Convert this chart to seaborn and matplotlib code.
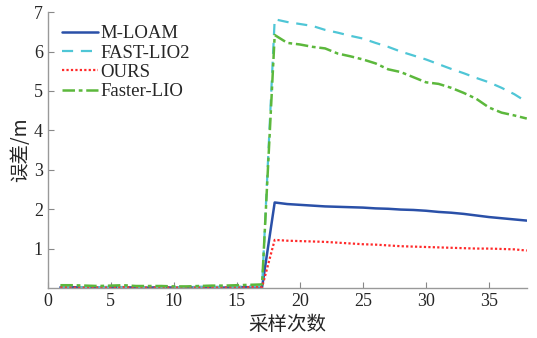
"""Error comparison chart: M-LOAM / FAST-LIO2 / OURS / Faster-LIO."""

import matplotlib
matplotlib.use("Agg")
import matplotlib.pyplot as plt
import numpy as np
import pandas as pd
import seaborn as sns

samples = list(range(1, 39))

m_loam = [0.02, 0.02, 0.01, 0.01, 0.02, 0.02, 0.01, 0.01, 0.02, 0.01, 0.01, 0.02,
          0.02, 0.01, 0.02, 0.02, 0.02,
          2.17, 2.13, 2.11, 2.09, 2.07, 2.06, 2.05, 2.04, 2.02, 2.01, 1.99, 1.98,
          1.96, 1.93, 1.91, 1.88, 1.84, 1.80, 1.77, 1.74, 1.71]
fast_lio2 = [0.03, 0.03, 0.02, 0.02, 0.03, 0.02, 0.02, 0.02, 0.02, 0.02, 0.02, 0.03,
             0.03, 0.03, 0.03, 0.04, 0.04,
             6.82, 6.75, 6.70, 6.65, 6.55, 6.48, 6.40, 6.33, 6.22, 6.12, 6.00, 5.90,
             5.80, 5.68, 5.56, 5.45, 5.33, 5.22, 5.08, 4.92, 4.72]
ours = [0.02, 0.01, 0.01, 0.01, 0.01, 0.02, 0.01, 0.01, 0.01, 0.01, 0.01, 0.01,
        0.01, 0.01, 0.01, 0.02, 0.02,
        1.22, 1.20, 1.19, 1.18, 1.17, 1.15, 1.13, 1.11, 1.10, 1.08, 1.06, 1.05,
        1.04, 1.03, 1.02, 1.01, 1.00, 1.00, 0.99, 0.98, 0.95]
faster_lio = [0.07, 0.07, 0.06, 0.05, 0.06, 0.07, 0.05, 0.05, 0.05, 0.04, 0.04, 0.05,
              0.06, 0.06, 0.07, 0.08, 0.09,
              6.42, 6.22, 6.18, 6.12, 6.08, 5.95, 5.88, 5.80, 5.70, 5.55, 5.48, 5.35,
              5.22, 5.18, 5.08, 4.95, 4.80, 4.58, 4.45, 4.38, 4.30]

series = {
    "M-LOAM": m_loam,
    "FAST-LIO2": fast_lio2,
    "OURS": ours,
    "Faster-LIO": faster_lio,
}
styles = {
    "M-LOAM": dict(color="#2a50a8", linestyle="-", linewidth=1.8),
    "FAST-LIO2": dict(color="#4fc6d6", linestyle=(0, (5, 3.5)), linewidth=1.6),
    "OURS": dict(color="#ff2a2a", linestyle=(0, (1, 1)), linewidth=1.6),
    "Faster-LIO": dict(color="#5cb83c", linestyle=(0, (5, 1.5, 1.5, 1.5)), linewidth=1.8),
}

df = pd.DataFrame({"x": samples, **series})
long = df.melt(id_vars="x", var_name="method", value_name="err")

sns.set_style("ticks")
plt.rcParams["font.family"] = ["Liberation Serif", "Noto Sans CJK SC"]
plt.rcParams["xtick.direction"] = "in"
plt.rcParams["ytick.direction"] = "in"

fig = plt.figure(figsize=(5.37, 3.38), dpi=100)
ax = fig.add_axes([0.089, 0.148, 0.892, 0.816])

for name in series:
    sub = long[long["method"] == name]
    sns.lineplot(data=sub, x="x", y="err", ax=ax, label=name, **styles[name])

ax.set_xlim(0, 38)
ax.set_ylim(0, 7)
ax.set_xticks(np.arange(0, 36, 5))
ax.set_yticks(np.arange(1, 8, 1))
ax.tick_params(labelsize=13, length=4, color="#888888", width=0.8)
for side in ["top", "right"]:
    ax.spines[side].set_visible(False)
for side in ["left", "bottom"]:
    ax.spines[side].set_color("#999999")
    ax.spines[side].set_linewidth(1.0)

ax.set_xlabel("采样次数", fontsize=14, family=["Noto Sans CJK SC"], labelpad=3)
ax.set_ylabel("误差/m", fontsize=14, family=["Noto Sans CJK SC", "Liberation Serif"], labelpad=2)

ax.legend(loc="upper left", frameon=False, fontsize=13.5, handlelength=1.9,
          handletextpad=0.1, labelspacing=0.12, borderaxespad=0.0,
          bbox_to_anchor=(0.015, 0.98))

fig.savefig("out.png", dpi=100)
